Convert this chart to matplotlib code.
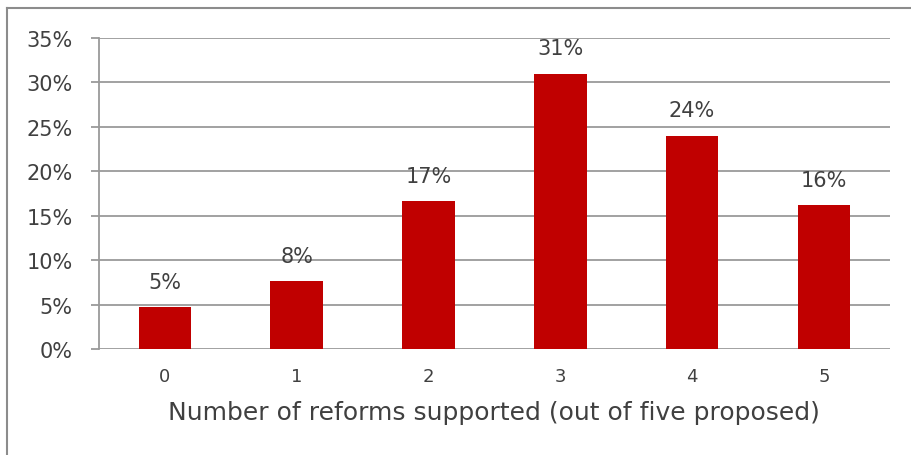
import matplotlib
matplotlib.use('Agg')
import matplotlib.pyplot as plt
from matplotlib.lines import Line2D
from matplotlib.ticker import FuncFormatter, MultipleLocator

# share of respondents by number of reforms backed
categories = ['0', '1', '2', '3', '4', '5']
shares = [4.7, 7.6, 16.6, 31.0, 24.0, 16.2]

BAR_COLOR = '#C00000'
TEXT_COLOR = '#404040'
GRID_COLOR = '#9a9a9a'

plt.rcParams['font.family'] = ['DejaVu Sans']

fig = plt.figure(figsize=(9.11, 4.56), dpi=100)
ax = fig.add_axes([0.1087, 0.2325, 0.868, 0.682])

x = range(len(categories))
bars = ax.bar(x, shares, width=0.4, color=BAR_COLOR, zorder=3)

for b, v in zip(bars, shares):
    ax.annotate(f'{v:.0f}%', (b.get_x() + b.get_width() / 2, v),
                xytext=(0, 11), textcoords='offset points',
                ha='center', va='bottom', fontsize=15, color=TEXT_COLOR)

ax.set_xlim(-0.5, len(categories) - 0.5)
ax.set_ylim(0, 35)
ax.yaxis.set_major_locator(MultipleLocator(5))
ax.yaxis.set_major_formatter(FuncFormatter(lambda v, _: f'{v:.0f}%'))
ax.set_xticks(list(x))
ax.set_xticklabels(categories)

ax.grid(True, axis='y', color=GRID_COLOR, linewidth=1.3, zorder=0)
ax.set_axisbelow(True)
for side in ['top', 'right', 'bottom']:
    ax.spines[side].set_visible(False)
ax.spines['left'].set_color(GRID_COLOR)
ax.spines['left'].set_linewidth(1.3)

ax.tick_params(axis='y', length=6, width=1.3, color=GRID_COLOR,
               labelsize=15, labelcolor=TEXT_COLOR, pad=13)
ax.tick_params(axis='x', length=0, labelsize=13, labelcolor=TEXT_COLOR, pad=13)

ax.set_xlabel('Number of reforms supported (out of five proposed)',
              fontsize=18, color=TEXT_COLOR, labelpad=11)

# outer frame of the chart area
fig.add_artist(Line2D([7 / 911, 7 / 911], [0, 1 - 9 / 456], transform=fig.transFigure,
                      color='#8c8c8c', linewidth=1.5))
fig.add_artist(Line2D([7 / 911, 1], [1 - 9 / 456, 1 - 9 / 456], transform=fig.transFigure,
                      color='#8c8c8c', linewidth=1.5))

fig.savefig('out.png', dpi=100)
